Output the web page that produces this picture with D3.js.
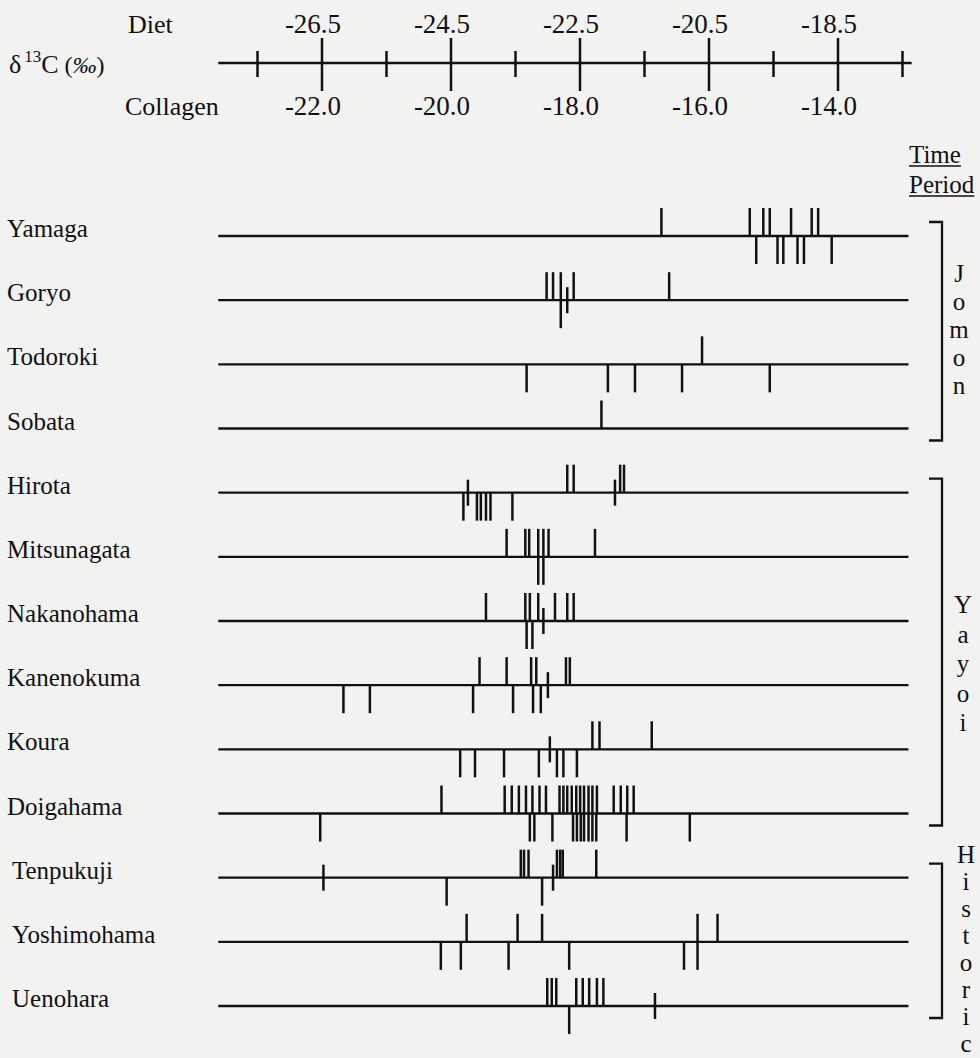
<!DOCTYPE html>
<html>
<head>
<meta charset="utf-8">
<script src="https://cdn.jsdelivr.net/npm/d3@7"></script>
<style>
body { margin: 0; background: #f2f2f1; }
svg { display: block; font-family: "Liberation Serif", "Times New Roman", serif; }
</style>
</head>
<body>
<svg id="chart" width="980" height="1058"></svg>
<script>
// sites, top to bottom
var sites = ["Yamaga", "Goryo", "Todoroki", "Sobata", "Hirota", "Mitsunagata", "Nakanohama",
	"Kanenokuma", "Koura", "Doigahama", "Tenpukuji", "Yoshimohama", "Uenohara"];

var periodNames = ["Jomon", "Yayoi", "Historic"];
var periodSites = [
	["Yamaga", "Goryo", "Todoroki", "Sobata"],
	["Hirota", "Mitsunagata", "Nakanohama", "Kanenokuma", "Koura", "Doigahama"],
	["Tenpukuji", "Yoshimohama", "Uenohara"]
];

// collagen d13C per individual, one list per site (same order as sites)
// marks drawn above the site line
var upTicks = [
	[-16.73, -15.36, -15.15, -15.05, -14.72, -14.40, -14.30],
	[-18.51, -18.41, -18.29, -18.09, -16.61],
	[-16.10],
	[-17.66],
	[-18.19, -18.09, -17.37, -17.31],
	[-19.13, -18.84, -18.78, -18.64, -18.56, -18.48, -17.76],
	[-19.45, -18.84, -18.77, -18.64, -18.38, -18.19, -18.09],
	[-19.55, -19.13, -18.75, -18.67, -18.21, -18.15],
	[-17.80, -17.69, -16.88],
	[-20.14, -19.16, -19.05, -18.94, -18.83, -18.73, -18.62, -18.52, -18.31, -18.25, -18.19,
		-18.12, -18.05, -17.99, -17.93, -17.86, -17.80, -17.73, -17.47, -17.36, -17.26, -17.16],
	[-18.91, -18.86, -18.79, -18.35, -18.30, -18.26, -17.74],
	[-19.75, -18.96, -18.58, -16.17, -15.86],
	[-18.50, -18.43, -18.36, -18.05, -17.95, -17.85, -17.73, -17.63]
];
// marks drawn below the site line
var downTicks = [
	[-15.26, -14.93, -14.84, -14.62, -14.52, -14.09],
	[-18.29],
	[-18.82, -17.56, -17.14, -16.41, -15.05],
	[],
	[-19.80, -19.59, -19.53, -19.45, -19.38, -19.04],
	[-18.64, -18.56],
	[-18.82, -18.73],
	[-21.66, -21.25, -19.65, -19.03, -18.72, -18.60],
	[-19.85, -19.62, -19.17, -18.63, -18.35, -18.25, -18.04],
	[-22.02, -18.77, -18.70, -18.42, -18.10, -18.04, -17.98, -17.93, -17.86, -17.80, -17.74,
		-17.27, -16.29],
	[-20.06, -18.58],
	[-20.15, -19.84, -19.10, -18.16, -16.38, -16.17],
	[-18.16]
];
// short marks crossing the site line
var crossTicks = [
	[],
	[-18.19],
	[],
	[],
	[-19.73, -17.45],
	[],
	[-18.56],
	[-18.49],
	[-18.46],
	[],
	[-21.97, -18.41],
	[],
	[-16.83]
];

// axis
var collagenTicks = [-22, -20, -18, -16, -14];
var dietLabels = ["-26.5", "-24.5", "-22.5", "-20.5", "-18.5"];
var minorTicks = [-23, -21, -19, -17, -15, -13];

var INK = "#111";
var FONT = "'Liberation Serif', 'Times New Roman', serif";
var AXIS_Y = 63, TICK = 28, CROSS = 13;

var svg = d3.select("#chart");
svg.append("rect").attr("width", 980).attr("height", 1058).attr("fill", "#f2f2f1");

var x = d3.scaleLinear().domain([-23, -13]).range([257, 902]);
var y = d3.scalePoint().domain(sites).range([236, 1006]);

// ---- scale bar at top
var axisG = svg.append("g").attr("transform", "translate(0," + AXIS_Y + ")");
axisG.append("line")
	.attr("x1", x(-23.6)).attr("x2", x(-12.85))
	.attr("stroke", INK).attr("stroke-width", 2.5);

axisG.append("g")
	.call(d3.axisTop(x).tickValues(collagenTicks).tickSize(25).tickPadding(5)
		.tickFormat(function(d, i) { return dietLabels[i]; }));
axisG.append("g")
	.call(d3.axisBottom(x).tickValues(collagenTicks).tickSize(TICK).tickPadding(5)
		.tickFormat(function(d) { return d.toFixed(1); }));
axisG.append("g")
	.attr("transform", "translate(0,-12)")
	.call(d3.axisBottom(x).tickValues(minorTicks).tickSize(26).tickFormat(""));

axisG.selectAll(".domain").remove();
axisG.selectAll(".tick line").attr("stroke", INK).attr("stroke-width", 2.5);
axisG.selectAll(".tick text")
	.attr("fill", INK)
	.attr("font-family", FONT)
	.attr("font-size", 27)
	.attr("dx", -9);

svg.append("text").attr("x", 128).attr("y", 33)
	.attr("font-size", 26).attr("fill", INK).text("Diet");
svg.append("text").attr("x", 125).attr("y", 115)
	.attr("font-size", 26).attr("fill", INK).text("Collagen");

var dLabel = svg.append("text").attr("x", 9).attr("y", 73).attr("fill", INK).attr("font-size", 26);
dLabel.append("tspan").text("\u03b4");
dLabel.append("tspan").attr("font-size", 17).attr("dx", 3).attr("dy", -11).text("13");
dLabel.append("tspan").attr("dy", 11).text("C");
dLabel.append("tspan").attr("font-size", 24).attr("dx", 6).text("(");
dLabel.append("tspan").attr("font-size", 24).attr("font-style", "italic").text("\u2030");
dLabel.append("tspan").attr("font-size", 24).text(")");

// ---- one row per site
function periodOf(site) {
	for (var p = 0; p < periodSites.length; p++) {
		if (periodSites[p].indexOf(site) >= 0) { return periodNames[p]; }
	}
}

var rows = svg.selectAll("g.site")
	.data(sites)
	.enter()
	.append("g")
	.attr("class", "site")
	.attr("transform", function(d) { return "translate(0," + y(d) + ")"; });

rows.append("line")
	.attr("x1", x(-23.6)).attr("x2", x(-12.9))
	.attr("stroke", INK).attr("stroke-width", 2.3);

rows.append("text")
	.attr("x", function(d) { return periodOf(d) === "Historic" ? 12 : 7; })
	.attr("y", 1)
	.attr("font-size", 25)
	.attr("fill", INK)
	.text(function(d) { return d; });

rows.each(function(d, i) {
	var g = d3.select(this);
	g.selectAll("line.up").data(upTicks[i]).enter().append("line")
		.attr("class", "up")
		.attr("x1", function(v) { return x(v); }).attr("x2", function(v) { return x(v); })
		.attr("y1", -TICK).attr("y2", 0);
	g.selectAll("line.down").data(downTicks[i]).enter().append("line")
		.attr("class", "down")
		.attr("x1", function(v) { return x(v); }).attr("x2", function(v) { return x(v); })
		.attr("y1", 0).attr("y2", TICK);
	g.selectAll("line.cross").data(crossTicks[i]).enter().append("line")
		.attr("class", "cross")
		.attr("x1", function(v) { return x(v); }).attr("x2", function(v) { return x(v); })
		.attr("y1", -CROSS).attr("y2", CROSS);
	g.selectAll("line.up, line.down, line.cross")
		.attr("stroke", INK).attr("stroke-width", 2.5);
});

// ---- time period brackets on the right
var letterTop = [282, 613, 863], letterStep = [28, 29.5, 27], letterX = [959, 963, 966];

periodNames.forEach(function(name, p) {
	var list = periodSites[p];
	var top = y(list[0]) - 14, bottom = y(list[list.length - 1]) + 12;
	svg.append("path")
		.attr("d", "M929," + top + "H942V" + bottom + "H929")
		.attr("fill", "none").attr("stroke", INK).attr("stroke-width", 2.3);
	svg.selectAll(null)
		.data(name.split(""))
		.enter()
		.append("text")
		.attr("x", letterX[p])
		.attr("y", function(c, k) { return letterTop[p] + k * letterStep[p]; })
		.attr("text-anchor", "middle")
		.attr("font-size", 25)
		.attr("fill", INK)
		.text(function(c) { return c; });
});

// "Time Period" heading, underlined
[["Time", 163], ["Period", 193]].forEach(function(t) {
	var txt = svg.append("text").attr("x", 909).attr("y", t[1])
		.attr("font-size", 25).attr("fill", INK).text(t[0]);
	var w = txt.node().getComputedTextLength();
	svg.append("line")
		.attr("x1", 909).attr("x2", 909 + w)
		.attr("y1", t[1] + 3).attr("y2", t[1] + 3)
		.attr("stroke", INK).attr("stroke-width", 1.5);
});
</script>
</body>
</html>
